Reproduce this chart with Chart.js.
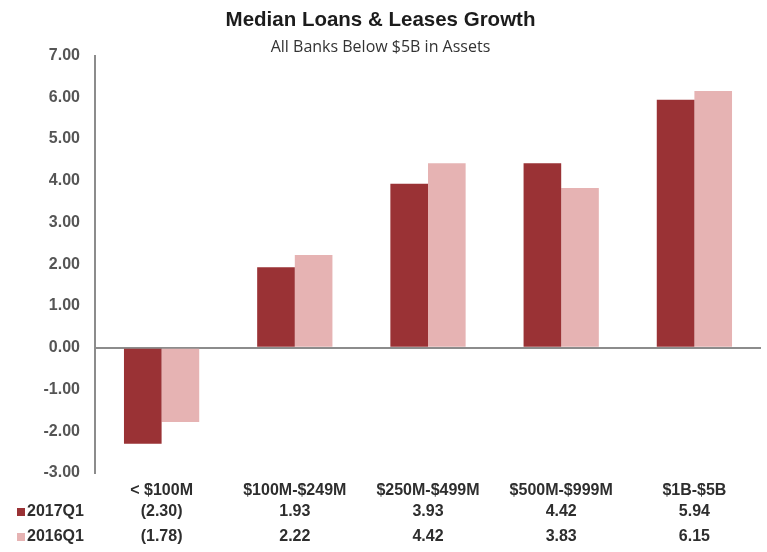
<!DOCTYPE html>
<html>
<head>
<meta charset="utf-8">
<title>Median Loans & Leases Growth</title>
<script src="https://cdn.jsdelivr.net/npm/chart.js@4.4.1/dist/chart.umd.min.js"></script>
<style>
    html, body { margin: 0; padding: 0; background: #ffffff; }
    #wrap { width: 767px; height: 552px; position: relative; }
</style>
</head>
<body>
<div id="wrap"><canvas id="loans-chart"></canvas></div>
<script>
const categories = ['< $100M', '$100M-$249M', '$250M-$499M', '$500M-$999M', '$1B-$5B'];
const series2017 = [-2.30, 1.93, 3.93, 4.42, 5.94];
const series2016 = [-1.78, 2.22, 4.42, 3.83, 6.15];
const seriesNames = ['2017Q1', '2016Q1'];
const yMin = -3;
const yMax = 7;
const yStep = 1;

const colors = {
    dark: '#9a3235',
    light: '#e6b3b3',
    axis: '#8c8c8c',
    text: '#2e2e2e',
    tick: '#555555'
};
const sansFont = '"Liberation Sans", Arial, sans-serif';

function formatValue(v) {
    // negatives shown in accounting style
    return v < 0 ? '(' + Math.abs(v).toFixed(2) + ')' : v.toFixed(2);
}

// value table under the category labels, columns follow the x scale
const dataTablePlugin = {
    id: 'dataTable',
    afterDraw(chart) {
        const ctx = chart.ctx;
        const xScale = chart.scales.x;
        const rows = [series2017, series2016];
        const rowColors = [colors.dark, colors.light];
        const base = chart.chartArea.bottom;
        ctx.save();
        ctx.font = 'bold 16px ' + sansFont;
        ctx.textBaseline = 'middle';
        rows.forEach((row, r) => {
            const y = base + 39 + r * 25;
            ctx.fillStyle = rowColors[r];
            ctx.fillRect(17, y - 4, 8, 8);
            ctx.fillStyle = colors.text;
            ctx.textAlign = 'left';
            ctx.fillText(seriesNames[r], 27, y);
            ctx.textAlign = 'center';
            row.forEach((v, i) => {
                ctx.fillText(formatValue(v), xScale.getPixelForValue(i), y);
            });
        });
        ctx.restore();
    }
};

const ctxLoans = document.getElementById('loans-chart').getContext('2d');

new Chart(ctxLoans, {
    type: 'bar',
    data: {
        labels: categories,
        datasets: [
            {
                label: seriesNames[0],
                data: series2017,
                backgroundColor: colors.dark,
                categoryPercentage: 0.565,
                barPercentage: 1
            },
            {
                label: seriesNames[1],
                data: series2016,
                backgroundColor: colors.light,
                categoryPercentage: 0.565,
                barPercentage: 1
            }
        ]
    },
    options: {
        responsive: true,
        maintainAspectRatio: false,
        animation: false,
        layout: { padding: { left: 0, right: 6, top: 0, bottom: 49 } },
        plugins: {
            legend: { display: false },
            tooltip: { enabled: false },
            title: {
                display: true,
                text: 'Median Loans & Leases Growth',
                color: '#1c1c1c',
                font: { family: sansFont, size: 20.5, weight: 'bold', lineHeight: 1.2 },
                padding: { top: 8, bottom: 7 }
            },
            subtitle: {
                display: true,
                text: 'All Banks Below $5B in Assets',
                color: '#333333',
                font: { family: '"Open Sans", sans-serif', size: 16, lineHeight: 1 },
                padding: { top: 0, bottom: 0 }
            }
        },
        scales: {
            x: {
                grid: { display: false, drawTicks: false, tickLength: 0 },
                border: { display: false },
                ticks: {
                    color: colors.text,
                    font: { family: sansFont, size: 16, weight: 'bold' },
                    padding: 8,
                    maxRotation: 0,
                    autoSkip: false
                },
                afterFit: scale => { scale.height = 30; }
            },
            y: {
                min: yMin,
                max: yMax,
                ticks: {
                    stepSize: yStep,
                    color: colors.tick,
                    font: { family: sansFont, size: 16, weight: 'bold' },
                    padding: 15,
                    callback: value => value.toFixed(2)
                },
                grid: {
                    drawTicks: false,
                    lineWidth: 2,
                    color: context => context.tick && context.tick.value === 0 ? colors.axis : 'rgba(0,0,0,0)'
                },
                border: { display: true, color: colors.axis, width: 2 },
                afterFit: scale => { scale.width = 95; }
            }
        }
    },
    plugins: [dataTablePlugin]
});
</script>
</body>
</html>
